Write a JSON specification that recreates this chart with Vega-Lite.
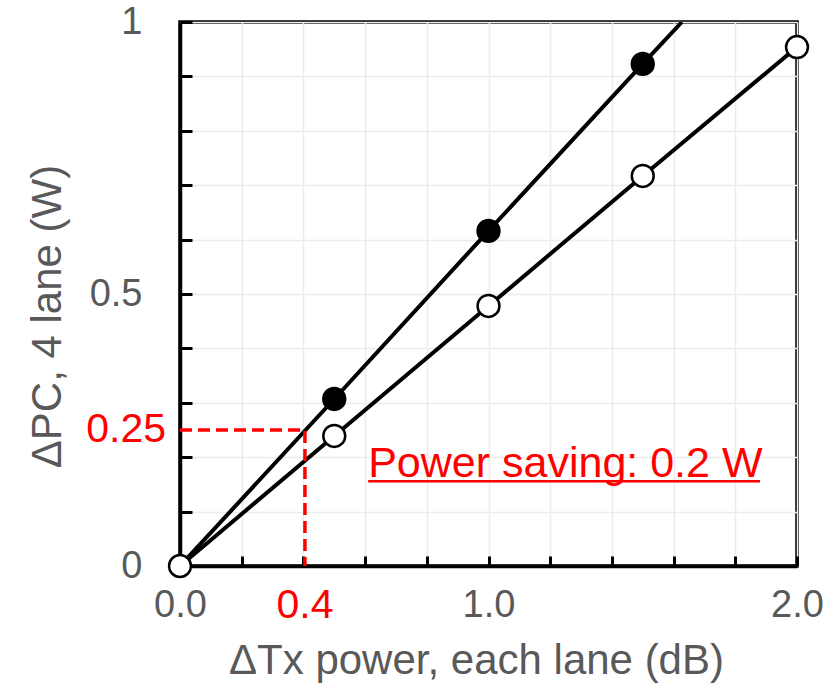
{
  "$schema": "https://vega.github.io/schema/vega-lite/v6.json",
  "width": 617,
  "height": 544,
  "autosize": {"type": "none"},
  "padding": {"left": 180, "top": 22, "right": 26, "bottom": 126},
  "background": "white",
  "config": {
    "view": {"stroke": "black", "strokeWidth": 3.5},
    "font": "Liberation Sans",
    "axis": {
      "labelFont": "Liberation Sans",
      "titleFont": "Liberation Sans",
      "labelFontSize": 38,
      "titleFontSize": 42,
      "titleFontWeight": "normal",
      "labelColor": "#595959",
      "titleColor": "#595959",
      "domainColor": "black",
      "domainWidth": 3.5,
      "tickColor": "black",
      "tickWidth": 3,
      "gridColor": "#ececec",
      "gridWidth": 1.5
    }
  },
  "data": {
    "values": [
      {"series": "filled", "x": 0, "y": 0, "ord": 0, "pt": false},
      {"series": "filled", "x": 0.5, "y": 0.307, "ord": 1, "pt": true},
      {"series": "filled", "x": 1.0, "y": 0.616, "ord": 2, "pt": true},
      {"series": "filled", "x": 1.5, "y": 0.923, "ord": 3, "pt": true},
      {"series": "filled", "x": 1.627, "y": 1.0, "ord": 4, "pt": false},
      {"series": "open", "x": 0, "y": 0, "ord": 0, "pt": true},
      {"series": "open", "x": 0.5, "y": 0.239, "ord": 1, "pt": true},
      {"series": "open", "x": 1.0, "y": 0.478, "ord": 2, "pt": true},
      {"series": "open", "x": 1.5, "y": 0.717, "ord": 3, "pt": true},
      {"series": "open", "x": 2.0, "y": 0.954, "ord": 4, "pt": true},
      {"series": "guide", "x": 0, "y": 0.25, "ord": 0, "pt": false},
      {"series": "guide", "x": 0.405, "y": 0.25, "ord": 1, "pt": false},
      {"series": "guide", "x": 0.405, "y": 0, "ord": 2, "pt": false}
    ]
  },
  "encoding": {
    "x": {
      "field": "x", "type": "quantitative",
      "scale": {"domain": [0, 2], "nice": false, "zero": false},
      "axis": {
        "title": "ΔTx power, each lane (dB)",
        "values": [0, 0.2, 0.4, 0.6, 0.8, 1, 1.2, 1.4, 1.6, 1.8, 2],
        "labelExpr": "(datum.value == 0 || datum.value == 1 || datum.value == 2) ? format(datum.value, '.1f') : ''",
        "tickSize": -10,
        "labelPadding": 30,
        "titlePadding": 16,
        "titleX": 296,
        "grid": true,
        "labelFlush": false,
        "labelOverlap": false
      }
    },
    "y": {
      "field": "y", "type": "quantitative",
      "scale": {"domain": [0, 1], "nice": false, "zero": false},
      "axis": {
        "title": "ΔPC, 4 lane (W)",
        "values": [0, 0.1, 0.2, 0.3, 0.4, 0.5, 0.6, 0.7, 0.8, 0.9, 1],
        "labelExpr": "datum.value == 0 ? '0' : datum.value == 0.5 ? '0.5' : datum.value == 1 ? '1' : ''",
        "tickSize": -12,
        "labelPadding": 50,
        "titlePadding": 20,
        "titleY": 294,
        "grid": true,
        "labelFlush": false,
        "labelOverlap": false
      }
    }
  },
  "layer": [
    {
      "transform": [{"filter": "datum.series != 'guide'"}],
      "mark": {"type": "line", "color": "black", "strokeWidth": 4, "clip": true},
      "encoding": {"detail": {"field": "series"}, "order": {"field": "ord"}}
    },
    {
      "transform": [{"filter": "datum.series == 'guide'"}],
      "mark": {"type": "line", "color": "#ff0000", "strokeWidth": 3.5, "strokeDash": [12, 6]},
      "encoding": {"order": {"field": "ord"}}
    },
    {
      "transform": [{"filter": "datum.pt && datum.series == 'open'"}],
      "mark": {"type": "point", "shape": "circle", "filled": true, "fill": "white", "stroke": "black", "strokeWidth": 2.5, "size": 480, "opacity": 1},
      "encoding": {}
    },
    {
      "transform": [{"filter": "datum.pt && datum.series == 'filled'"}],
      "mark": {"type": "point", "shape": "circle", "filled": true, "fill": "black", "stroke": "black", "strokeWidth": 2.5, "size": 480, "opacity": 1},
      "encoding": {}
    },
    {
      "data": {"values": [{"x": 0, "y": 0.25, "label": "0.25"}]},
      "mark": {"type": "text", "color": "#ff0000", "fontSize": 41, "font": "Liberation Sans", "align": "right", "baseline": "middle", "dx": -14, "clip": false},
      "encoding": {"text": {"field": "label"}}
    },
    {
      "data": {"values": [{"x": 0.405, "y": 0, "label": "0.4"}]},
      "mark": {"type": "text", "color": "#ff0000", "fontSize": 41, "font": "Liberation Sans", "align": "center", "baseline": "middle", "dy": 40, "clip": false},
      "encoding": {"text": {"field": "label"}}
    },
    {
      "data": {"values": [{"x": 0.61, "y": 0.188, "label": "Power saving: 0.2 W"}]},
      "mark": {"type": "text", "color": "#ff0000", "fontSize": 43, "font": "Liberation Sans", "align": "left", "baseline": "middle"},
      "encoding": {"text": {"field": "label"}}
    },
    {
      "data": {"values": [{"x": 0.61, "x2": 1.88, "y": 0.156}]},
      "mark": {"type": "rule", "color": "#ff0000", "strokeWidth": 2.5},
      "encoding": {"x2": {"field": "x2"}}
    }
  ]
}
